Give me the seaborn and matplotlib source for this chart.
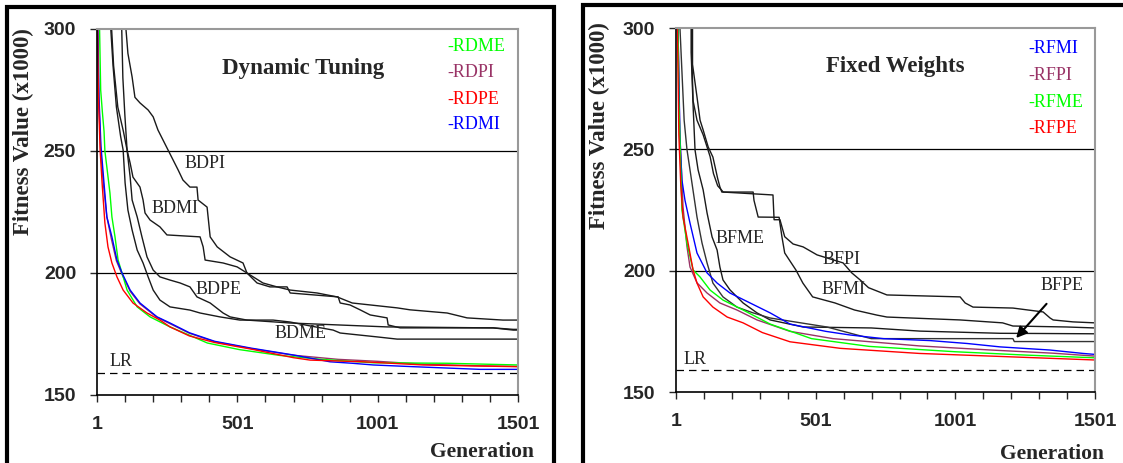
import matplotlib
matplotlib.use("Agg")
import matplotlib.pyplot as plt
from matplotlib.patches import Rectangle
import seaborn as sns

# ---------------- data: Dynamic Tuning (left) ----------------
RDME_GEN = [1, 10, 14, 20, 26, 29, 36, 47, 54, 65, 76, 90, 108, 144, 190, 261, 330, 394, 508, 653, 800, 985, 1248, 1501]
RDME_FIT = [340, 300, 275, 266, 258, 250, 243.4, 232.8, 223, 214.8, 205.3, 200, 193, 186.1, 182, 177.9, 174.5, 171.3, 168.6, 166.2, 164.6, 163.2, 163, 162.3]
RDPI_GEN = [1, 3, 7, 14, 24, 36, 52, 70, 90, 119, 154, 215, 261, 330, 420, 550, 700, 860, 1000, 1163, 1350, 1501]
RDPI_FIT = [340, 300, 272, 250, 236, 223, 214, 205, 199.5, 192.5, 187.3, 181.8, 179.2, 175.3, 171.8, 169, 166.3, 164.6, 163.8, 162.6, 162, 161.7]
RDPE_GEN = [1, 3, 6, 12, 19, 29, 40, 54, 72, 94, 129, 179, 225, 261, 330, 420, 550, 700, 760, 949, 1163, 1340, 1501]
RDPE_FIT = [340, 300, 272, 250.4, 236.9, 220.5, 210.7, 204.1, 198.4, 193, 187.7, 183.6, 180.7, 177.9, 174.2, 171.5, 168.8, 165.3, 164.3, 163.6, 162.3, 161.9, 161.6]
RDMI_GEN = [1, 4, 8, 15, 25, 36, 54, 72, 90, 119, 154, 215, 261, 330, 420, 550, 700, 831, 910, 985, 1127, 1366, 1501]
RDMI_FIT = [340, 300, 272, 252, 238, 223, 214.8, 205.3, 200, 193, 187.7, 182, 179.5, 175.5, 172, 169.2, 166.4, 163.6, 163, 162.3, 161.6, 160.5, 160.5]

BDPI_GEN = [104, 104, 111, 126, 136, 154, 183, 201, 218, 236, 254, 272, 290, 307, 332, 357, 361, 393, 404, 429, 475, 521, 535, 592, 642, 689, 785, 856, 910, 1070, 1116, 1248, 1319, 1447, 1501]
BDPI_FIT = [310, 300, 290, 280.3, 272, 269.7, 266.8, 264, 258.6, 254.5, 250.4, 246.3, 242.2, 238.1, 235.2, 235.2, 229.9, 227, 214.8, 210.7, 206.6, 204.1, 200, 195.9, 194.3, 193, 191.8, 190.2, 187.7, 185.7, 184.9, 183.6, 181.6, 180.7, 180.7]
BDMI_GEN = [89, 89, 93, 100, 108, 119, 129, 154, 165, 172, 190, 225, 250, 368, 379, 386, 450, 500, 535, 571, 617, 678, 689, 860, 867, 902, 938, 974, 1034, 1038, 1081, 1412, 1483, 1501]
BDMI_FIT = [310, 300, 280, 265, 250.4, 245, 239.3, 235.2, 229.9, 224.6, 221.7, 218.9, 215.6, 214.8, 210.7, 205.3, 204.1, 202.5, 200, 195.9, 194.3, 194.3, 191.8, 190.2, 187.7, 186.9, 184.9, 182.8, 181.6, 178.7, 177.5, 177.5, 176.6, 176.6]
BDPE_GEN = [53, 53, 60, 75, 95, 108, 119, 126, 144, 161, 179, 201, 225, 261, 297, 332, 357, 404, 450, 475, 535, 689, 1034, 1412, 1483, 1501]
BDPE_FIT = [310, 300, 285, 268, 258, 250.4, 239.3, 229.9, 223, 214.8, 206.6, 201.2, 198.4, 197.1, 195.9, 194.3, 190.2, 187.7, 183.6, 182, 180.7, 179.5, 177.9, 177.5, 176.9, 176.9]
BDME_GEN = [50, 50, 58, 70, 85, 94, 101, 111, 126, 144, 165, 183, 201, 225, 261, 332, 368, 439, 510, 628, 689, 760, 842, 867, 999, 1070, 1501]
BDME_FIT = [310, 300, 285, 268, 256, 250.4, 236.9, 225.8, 217.6, 209.4, 204.1, 198.4, 193, 188.9, 186.1, 184.8, 183.6, 182, 180.7, 180.7, 179.9, 178.3, 176.6, 175.4, 173.8, 172.9, 172.9]

# ---------------- data: Fixed Weights (right) ----------------
RFMI_GEN = [1, 8, 15, 22, 33, 51, 76, 112, 148, 194, 266, 338, 409, 537, 624, 743, 910, 1043, 1161, 1340, 1458, 1501]
RFMI_FIT = [340, 300, 255, 237.4, 229, 219.6, 207.3, 199.1, 194.9, 190.8, 186.7, 182.6, 178, 175, 173.5, 172, 171.2, 170, 168.6, 167.3, 165.9, 165.5]
RFPI_GEN = [1, 8, 14, 26, 40, 51, 76, 112, 158, 219, 291, 409, 563, 872, 1129, 1350, 1501]
RFPI_FIT = [340, 300, 258, 226.2, 210, 201.5, 195, 190.8, 186.7, 183.8, 179.7, 175, 172, 169, 167.3, 166, 164.8]
RFME_GEN = [1, 8, 11, 22, 40, 62, 87, 123, 169, 241, 338, 486, 692, 1000, 1257, 1501]
RFME_FIT = [340, 300, 270, 225, 211.4, 200.3, 197.4, 192, 187.9, 183.8, 178, 172, 168.8, 166.6, 165.2, 164.1]
RFPE_GEN = [1, 6, 11, 18, 26, 44, 62, 76, 98, 133, 184, 241, 310, 409, 589, 872, 1129, 1501]
RFPE_FIT = [340, 300, 256, 235, 222.1, 211.4, 200.3, 194.9, 189.2, 185, 180.9, 178.5, 174.5, 170.7, 168, 165.9, 164.8, 163.2]

BFPI_GEN = [57, 57, 62, 76, 87, 98, 112, 123, 135, 150, 170, 348, 352, 373, 390, 420, 456, 506, 599, 630, 660, 690, 756, 1018, 1036, 1064, 1207, 1315, 1340, 1351, 1422, 1501]
BFPI_FIT = [310, 290, 270, 262, 259, 256, 251, 247, 240, 235, 232.4, 231.2, 221, 221, 214, 211, 209.8, 206.5, 203.2, 199.1, 196.2, 193, 190, 189.2, 186.7, 185, 184.6, 183, 180.5, 179.7, 178.9, 178.5]
BFMI_GEN = [60, 60, 76, 87, 98, 116, 133, 150, 158, 165, 277, 280, 295, 370, 380, 390, 430, 455, 490, 570, 640, 720, 756, 1018, 1170, 1207, 1400, 1501]
BFMI_FIT = [310, 285, 271.6, 262, 258, 251, 246.8, 238, 234.5, 232.4, 232.4, 229, 222.1, 222, 214, 207.3, 200.3, 194.9, 189.2, 186.7, 183.8, 181.7, 180.9, 179.7, 178.5, 177.2, 176.8, 176.4]
BFME_GEN = [55, 55, 62, 69, 80, 98, 112, 130, 148, 158, 169, 194, 241, 291, 338, 456, 700, 874, 1161, 1501]
BFME_FIT = [310, 290, 268, 249.7, 241.5, 233.3, 223.8, 213.9, 208.5, 201.5, 196.2, 192.1, 186.7, 182.6, 179.7, 176.8, 176.4, 175.1, 174.2, 174]
BFPE_GEN = [15, 15, 30, 40, 58, 76, 94, 112, 133, 169, 219, 277, 338, 541, 649, 700, 1207, 1212, 1501]
BFPE_FIT = [310, 300, 262, 250, 236.1, 222.1, 211.4, 203.2, 194.9, 189.2, 185, 182.6, 180.5, 176.8, 173.5, 172, 172, 170.8, 170.8]

LR_LEVEL = 159
X_TICKS = list(range(1, 1502, 100))
X_LABELS = ["1", "501", "1001", "1501"]
Y_TICKS = [150, 200, 250, 300]

GREEN, PURPLE, RED, BLUE = "#00FF00", "#993366", "#FF0000", "#0000FF"

sns.set_style("white")
plt.rcParams["font.family"] = ["Liberation Serif", "DejaVu Serif"]
SANS = "Liberation Sans"

fig = plt.figure(figsize=(11.23, 4.63), dpi=100)
ax1 = fig.add_axes([0.0864, 0.1469, 0.375, 0.7905])
ax2 = fig.add_axes([0.602, 0.1533, 0.3731, 0.7862])

# panel frames
fig.add_artist(Rectangle((0.0062, -0.05), 0.4871, 1.035, transform=fig.transFigure,
                         fill=False, lw=3, ec="black"))
fig.add_artist(Rectangle((0.519, -0.05), 0.6, 1.039, transform=fig.transFigure,
                         fill=False, lw=3, ec="black"))


def draw(ax, gen, fit, color, lw=1.0):
    sns.lineplot(x=gen, y=fit, ax=ax, color=color, lw=lw, estimator=None, sort=False)


def style(ax, ylab_xy, xlab_xy):
    ax.set_xlim(1, 1501)
    ax.set_ylim(150, 300)
    ax.axhline(200, color="black", lw=0.9, zorder=0)
    ax.axhline(250, color="black", lw=0.9, zorder=0)
    ax.axhline(LR_LEVEL, color="black", lw=0.9, ls=(0, (6, 4)))
    ax.set_xticks(X_TICKS)
    ax.set_xticklabels([str(t) if str(t) in X_LABELS else "" for t in X_TICKS])
    ax.set_yticks(Y_TICKS)
    ax.tick_params(axis="x", direction="out", length=5, width=1, pad=10,
                   bottom=True, labelsize=14)
    ax.tick_params(axis="y", direction="out", length=5, width=1, pad=10,
                   left=True, labelsize=14)
    for lab in ax.get_xticklabels() + ax.get_yticklabels():
        lab.set_fontfamily(SANS)
        lab.set_fontweight("bold")
    for s in ["top", "right"]:
        ax.spines[s].set_color("#999999")
        ax.spines[s].set_linewidth(1.5)
    for s in ["left", "bottom"]:
        ax.spines[s].set_color("black")
        ax.spines[s].set_linewidth(1.2)
    ax.set_ylabel("Fitness Value (x1000)", fontsize=16.5, fontweight="bold")
    ax.yaxis.set_label_coords(*ylab_xy)
    ax.set_xlabel("Generation", fontsize=15.5, fontweight="bold")
    ax.xaxis.set_label_coords(*xlab_xy)
    ax.grid(False)


# ---- left panel ----
for g, f in [(BDPI_GEN, BDPI_FIT), (BDMI_GEN, BDMI_FIT), (BDPE_GEN, BDPE_FIT), (BDME_GEN, BDME_FIT)]:
    draw(ax1, g, f, "#1a1a1a")
draw(ax1, RDPI_GEN, RDPI_FIT, PURPLE)
draw(ax1, RDME_GEN, RDME_FIT, GREEN)
draw(ax1, RDMI_GEN, RDMI_FIT, BLUE)
draw(ax1, RDPE_GEN, RDPE_FIT, RED)
style(ax1, (-0.15, 0.72), (0.914, -0.128))

ax1.text(736, 283.6, "Dynamic Tuning", fontsize=16.5, fontweight="bold", ha="center", va="center")
for y, txt, c in [(292.9, "-RDME", GREEN), (282.2, "-RDPI", PURPLE),
                  (271.3, "-RDPE", RED), (260.7, "-RDMI", BLUE)]:
    ax1.text(1250, y, txt, color=c, fontsize=13, va="center", ha="left")
for x, y, txt in [(384, 245, "BDPI"), (280, 226.6, "BDMI"), (432, 193.4, "BDPE"),
                  (726, 175.4, "BDME"), (86, 163.8, "LR")]:
    ax1.text(x, y, txt, fontsize=13, ha="center", va="center")

# ---- right panel ----
for g, f in [(BFPI_GEN, BFPI_FIT), (BFMI_GEN, BFMI_FIT), (BFME_GEN, BFME_FIT)]:
    draw(ax2, g, f, "#1a1a1a")
draw(ax2, BFPE_GEN, BFPE_FIT, "#333333")
draw(ax2, RFPI_GEN, RFPI_FIT, PURPLE)
draw(ax2, RFMI_GEN, RFMI_FIT, BLUE)
draw(ax2, RFME_GEN, RFME_FIT, GREEN)
draw(ax2, RFPE_GEN, RFPE_FIT, RED)
style(ax2, (-0.158, 0.733), (0.897, -0.142))

ax2.text(784, 284.2, "Fixed Weights", fontsize=16.5, fontweight="bold", ha="center", va="center")
for y, txt, c in [(291.4, "-RFMI", BLUE), (280.4, "-RFPI", PURPLE),
                  (269.4, "-RFME", GREEN), (258.7, "-RFPE", RED)]:
    ax2.text(1263, y, txt, color=c, fontsize=13, va="center", ha="left")
for x, y, txt in [(230, 213.2, "BFME"), (592, 204.6, "BFPI"), (600, 192.2, "BFMI"),
                  (1381, 194, "BFPE"), (69, 163.4, "LR")]:
    ax2.text(x, y, txt, fontsize=13, ha="center", va="center")
ax2.annotate("", xy=(1212, 171.4), xytext=(1334, 187.2),
             arrowprops=dict(arrowstyle="-|>", color="black", lw=1.5, mutation_scale=16))

fig.savefig("out.png", dpi=100)
